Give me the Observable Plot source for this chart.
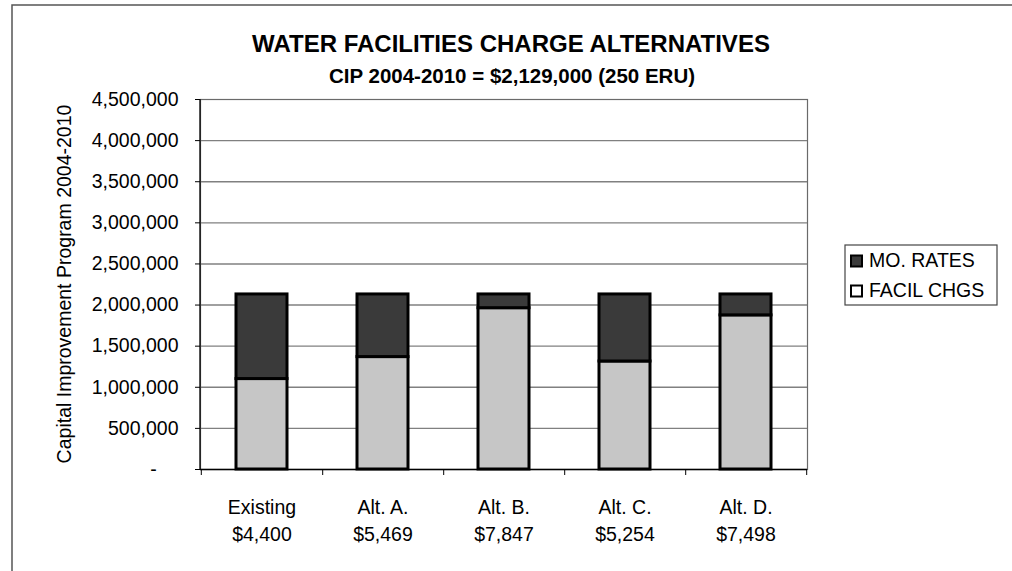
<!DOCTYPE html>
<html>
<head>
<meta charset="utf-8">
<script src="https://cdn.jsdelivr.net/npm/d3@7"></script>
<script src="https://cdn.jsdelivr.net/npm/@observablehq/plot@0.6"></script>
<style>
  html, body { margin: 0; padding: 0; background: #fff; }
  #wrap { position: relative; width: 1012px; height: 571px; overflow: hidden; }
  #wrap svg { position: absolute; left: 0; top: 0; overflow: visible; }
</style>
</head>
<body>
<div id="wrap"></div>
<script>
// ---- data ----
const categories = ["Existing", "Alt. A.", "Alt. B.", "Alt. C.", "Alt. D."];
const charges = ["$4,400", "$5,469", "$7,847", "$5,254", "$7,498"];
const facilChgs = [1100000, 1367250, 1961750, 1313500, 1874500];
const moRates = [1029000, 761750, 167250, 815500, 254500];
const seriesNames = ["MO. RATES", "FACIL CHGS"];
const yTicks = [0, 500000, 1000000, 1500000, 2000000, 2500000, 3000000, 3500000, 4000000, 4500000];
const titleText = "WATER FACILITIES CHARGE ALTERNATIVES";
const subtitleText = "CIP 2004-2010 = $2,129,000 (250 ERU)";
const yLabelText = "Capital Improvement Program 2004-2010";

// ---- layout ----
const W = 1012, H = 571;
const ML = 200, MR = 205, MT = 99, MB = 102;
const step = (W - ML - MR) / categories.length;
const FONT = "'Liberation Sans', Arial, Helvetica, sans-serif";
const FS = 19.5;
const darkFill = "#3a3a3a";
const lightFill = "#c6c6c6";

const rows = [];
categories.forEach((c, i) => {
  rows.push({cat: c, series: "FACIL CHGS", value: facilChgs[i]});
  rows.push({cat: c, series: "MO. RATES", value: moRates[i]});
});
const chargeOf = new Map(categories.map((c, i) => [c, charges[i]]));
const fmt = d3.format(",");

const chart = Plot.plot({
  width: W, height: H,
  marginLeft: ML, marginRight: MR, marginTop: MT, marginBottom: MB,
  style: {fontFamily: FONT, background: "#fff", color: "#000", overflow: "visible"},
  x: {domain: categories, paddingInner: 0.58, paddingOuter: 0.29, axis: null, label: null},
  y: {domain: [0, 4500000], axis: null, label: null},
  color: {domain: seriesNames, range: [darkFill, lightFill]},
  marks: [
    Plot.frame({stroke: "#6a6a6a", strokeWidth: 1.2}),
    Plot.ruleY(yTicks.slice(1, -1), {stroke: "#808080", strokeWidth: 1.4}),
    Plot.barY(rows, {x: "cat", y: "value", fill: "series", order: ["FACIL CHGS", "MO. RATES"],
      stroke: "#000", strokeWidth: 3}),
    Plot.ruleY([0], {stroke: "#000", strokeWidth: 1.3}),
    Plot.axisY({ticks: yTicks, tickSize: 5, tickPadding: 17, fontSize: FS, stroke: "#000",
      tickFormat: d => d === 0 ? "-\u00a0\u00a0\u00a0\u00a0" : fmt(d)}),
    Plot.axisX({ticks: categories, tickSize: 6, dx: step / 2, tickFormat: () => "", stroke: "#000"}),
    Plot.axisX({ticks: categories.slice(0, 1), tickSize: 6, dx: -step / 2, tickFormat: () => "", stroke: "#000"}),
    Plot.axisX({ticks: categories, tickSize: 0, tickPadding: 25, fontSize: FS, lineHeight: 1.385,
      tickFormat: d => d + "\n" + chargeOf.get(d)})
  ]
});

document.getElementById("wrap").appendChild(chart);

const svg = d3.select(chart);
// left axis line
svg.append("line").attr("x1", ML).attr("x2", ML).attr("y1", MT).attr("y2", H - MB)
  .attr("stroke", "#000").attr("stroke-width", 1.3);

// outer page border (left & top)
svg.append("path").attr("d", `M12,${H} L12,5 L${W},5`).attr("fill", "none")
  .attr("stroke", "#555").attr("stroke-width", 1.5);

// titles
svg.append("text").attr("x", 511).attr("y", 52).attr("text-anchor", "middle")
  .attr("font-family", FONT).attr("font-weight", "bold").attr("font-size", 24).attr("fill", "#000")
  .text(titleText);
svg.append("text").attr("x", 512).attr("y", 83).attr("text-anchor", "middle")
  .attr("font-family", FONT).attr("font-weight", "bold").attr("font-size", 20.5).attr("fill", "#000")
  .text(subtitleText);

// y label
svg.append("text").attr("transform", `translate(71,${(MT + H - MB) / 2}) rotate(-90)`)
  .attr("text-anchor", "middle").attr("font-family", FONT).attr("font-size", FS).attr("fill", "#000")
  .text(yLabelText);

// legend
const lg = svg.append("g").attr("text-anchor", "start");
lg.append("rect").attr("x", 845).attr("y", 245).attr("width", 152).attr("height", 60)
  .attr("fill", "#fff").attr("stroke", "#444").attr("stroke-width", 1.2);
const legendItems = [
  {name: seriesNames[0], fill: darkFill, y: 267},
  {name: seriesNames[1], fill: "#fff", y: 297}
];
legendItems.forEach(it => {
  lg.append("rect").attr("x", 851).attr("y", it.y - 11.5).attr("width", 11).attr("height", 11)
    .attr("fill", it.fill).attr("stroke", "#000").attr("stroke-width", 2);
  lg.append("text").attr("x", 869).attr("y", it.y).attr("text-anchor", "start")
    .attr("font-family", FONT).attr("font-size", FS).attr("fill", "#000").text(it.name);
});
</script>
</body>
</html>
